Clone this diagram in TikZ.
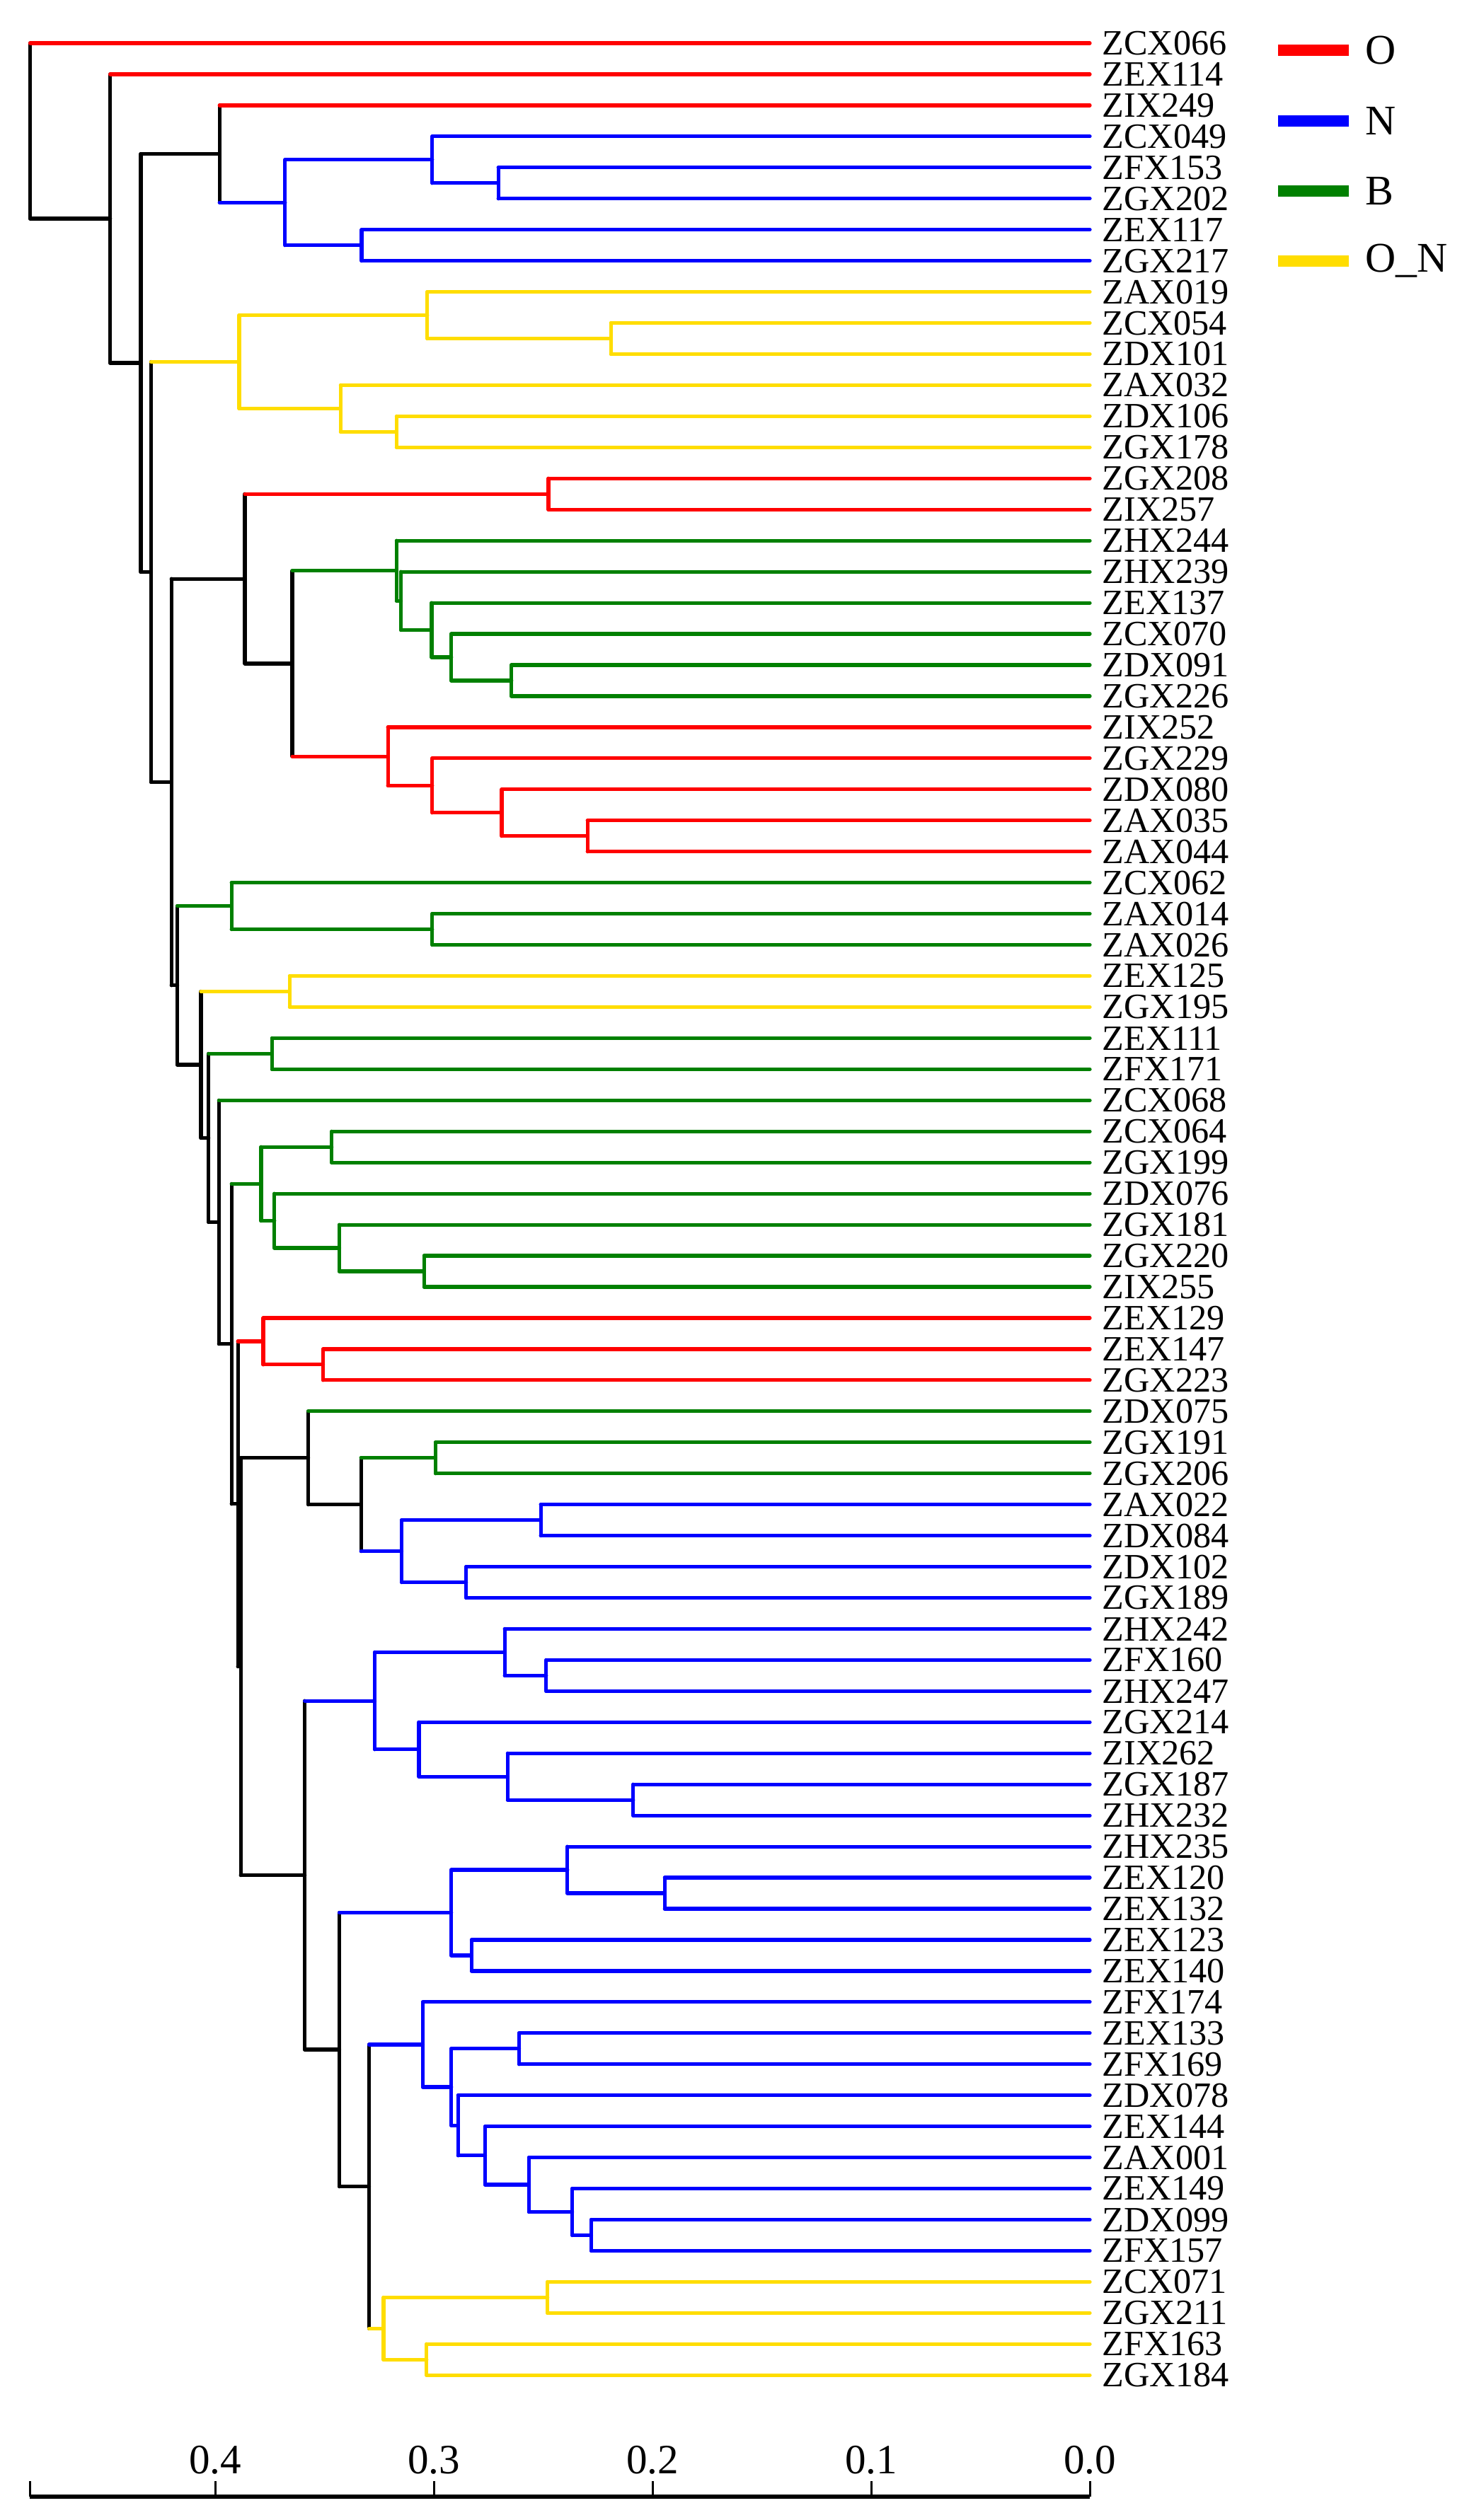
\documentclass[tikz,border=0pt]{standalone}
\usepackage{fontspec}
\setmainfont{Liberation Serif}
\usepackage{tikz}
\usetikzlibrary{calc}
\definecolor{clO}{RGB}{255,0,0}
\definecolor{clN}{RGB}{0,0,255}
\definecolor{clB}{RGB}{0,128,0}
\definecolor{clON}{RGB}{255,221,0}
\tikzstyle{branchline} = [line width=0.052cm, line cap=round, line join=round]
\tikzstyle{leafnode} = [anchor=west, inner xsep=0.17cm, inner ysep=0pt, font=\fontsize{14.3}{15}\selectfont]
\tikzstyle{keytext} = [anchor=west, inner sep=0pt, font=\fontsize{17}{19}\selectfont]
\tikzstyle{keybar} = [line width=0.16cm]
\tikzstyle{ticklabel} = [inner sep=0pt, font=\fontsize{16.8}{19}\selectfont]
\tikzstyle{axisline} = [line width=0.06cm]
\tikzstyle{axistick} = [line width=0.03cm]
% #1 name, #2 distance, #3/#4 children, #5 node colour, #6/#7 child colours
\newcommand{\joinnode}[7]{%
  \path let \p1 = ($(#3)!0.5!(#4)$) in coordinate (#1) at ({(15.40-30.9*#2)*1cm},\y1);
  \draw[branchline,#5] (#1 |- #3) -- (#1 |- #4);
  \draw[branchline,#6] (#1 |- #3) -- (#3);
  \draw[branchline,#7] (#1 |- #4) -- (#4);
}

\begin{document}
\begin{tikzpicture}
\useasboundingbox (0,0) rectangle (20.73,-35.62);
% leaves
\foreach \nm [count=\i] in {ZCX066,ZEX114,ZIX249,ZCX049,ZFX153,ZGX202,ZEX117,ZGX217,
  ZAX019,ZCX054,ZDX101,ZAX032,ZDX106,ZGX178,ZGX208,ZIX257,ZHX244,ZHX239,ZEX137,
  ZCX070,ZDX091,ZGX226,ZIX252,ZGX229,ZDX080,ZAX035,ZAX044,ZCX062,ZAX014,ZAX026,
  ZEX125,ZGX195,ZEX111,ZFX171,ZCX068,ZCX064,ZGX199,ZDX076,ZGX181,ZGX220,ZIX255,
  ZEX129,ZEX147,ZGX223,ZDX075,ZGX191,ZGX206,ZAX022,ZDX084,ZDX102,ZGX189,ZHX242,
  ZFX160,ZHX247,ZGX214,ZIX262,ZGX187,ZHX232,ZHX235,ZEX120,ZEX132,ZEX123,ZEX140,
  ZFX174,ZEX133,ZFX169,ZDX078,ZEX144,ZAX001,ZEX149,ZDX099,ZFX157,ZCX071,ZGX211,
  ZFX163,ZGX184}
  \node (\nm) [leafnode] at (15.40,{-0.61-0.4395*(\i-1)}) {\nm};

% cluster N (top)
\joinnode{a1}{0.2705}{ZFX153}{ZGX202}{clN}{clN}{clN}
\joinnode{a2}{0.3007}{ZCX049}{a1}{clN}{clN}{clN}
\joinnode{a3}{0.333}{ZEX117}{ZGX217}{clN}{clN}{clN}
\joinnode{a4}{0.368}{a2}{a3}{clN}{clN}{clN}
\joinnode{a5}{0.398}{ZIX249}{a4}{black}{clO}{clN}
% cluster O_N (top)
\joinnode{b1}{0.219}{ZCX054}{ZDX101}{clON}{clON}{clON}
\joinnode{b2}{0.303}{ZAX019}{b1}{clON}{clON}{clON}
\joinnode{b3}{0.317}{ZDX106}{ZGX178}{clON}{clON}{clON}
\joinnode{b4}{0.3426}{ZAX032}{b3}{clON}{clON}{clON}
\joinnode{b5}{0.389}{b2}{b4}{clON}{clON}{clON}
% O / B / O
\joinnode{c1}{0.2476}{ZGX208}{ZIX257}{clO}{clO}{clO}
\joinnode{c2}{0.2645}{ZDX091}{ZGX226}{clB}{clB}{clB}
\joinnode{c3}{0.292}{ZCX070}{c2}{clB}{clB}{clB}
\joinnode{c4}{0.301}{ZEX137}{c3}{clB}{clB}{clB}
\joinnode{c5}{0.315}{ZHX239}{c4}{clB}{clB}{clB}
\joinnode{c6}{0.317}{ZHX244}{c5}{clB}{clB}{clB}
\joinnode{c7}{0.2297}{ZAX035}{ZAX044}{clO}{clO}{clO}
\joinnode{c8}{0.2689}{ZDX080}{c7}{clO}{clO}{clO}
\joinnode{c9}{0.3007}{ZGX229}{c8}{clO}{clO}{clO}
\joinnode{c10}{0.321}{ZIX252}{c9}{clO}{clO}{clO}
\joinnode{c11}{0.3647}{c6}{c10}{black}{clB}{clO}
\joinnode{c12}{0.3864}{c1}{c11}{black}{clO}{black}
% small groups
\joinnode{e1}{0.3007}{ZAX014}{ZAX026}{clB}{clB}{clB}
\joinnode{e2}{0.3925}{ZCX062}{e1}{clB}{clB}{clB}
\joinnode{e3}{0.3659}{ZEX125}{ZGX195}{clON}{clON}{clON}
\joinnode{e4}{0.374}{ZEX111}{ZFX171}{clB}{clB}{clB}
% cluster B (middle)
\joinnode{f1}{0.3044}{ZGX220}{ZIX255}{clB}{clB}{clB}
\joinnode{f2}{0.3432}{ZGX181}{f1}{clB}{clB}{clB}
\joinnode{f3}{0.3729}{ZDX076}{f2}{clB}{clB}{clB}
\joinnode{f4}{0.3467}{ZCX064}{ZGX199}{clB}{clB}{clB}
\joinnode{f5}{0.379}{f4}{f3}{clB}{clB}{clB}
% cluster O (middle)
\joinnode{g1}{0.3506}{ZEX147}{ZGX223}{clO}{clO}{clO}
\joinnode{g2}{0.378}{ZEX129}{g1}{clO}{clO}{clO}
% B / N
\joinnode{h1}{0.2992}{ZGX191}{ZGX206}{clB}{clB}{clB}
\joinnode{h2}{0.2511}{ZAX022}{ZDX084}{clN}{clN}{clN}
\joinnode{h3}{0.2852}{ZDX102}{ZGX189}{clN}{clN}{clN}
\joinnode{h4}{0.3147}{h2}{h3}{clN}{clN}{clN}
\joinnode{h5}{0.3333}{h1}{h4}{black}{clB}{clN}
\joinnode{h6}{0.3574}{ZDX075}{h5}{black}{clB}{black}
% cluster N (bottom)
\joinnode{i1}{0.2486}{ZFX160}{ZHX247}{clN}{clN}{clN}
\joinnode{i2}{0.2676}{ZHX242}{i1}{clN}{clN}{clN}
\joinnode{i3}{0.2088}{ZGX187}{ZHX232}{clN}{clN}{clN}
\joinnode{i4}{0.2662}{ZIX262}{i3}{clN}{clN}{clN}
\joinnode{i5}{0.3068}{ZGX214}{i4}{clN}{clN}{clN}
\joinnode{i6}{0.327}{i2}{i5}{clN}{clN}{clN}
\joinnode{j1}{0.1944}{ZEX120}{ZEX132}{clN}{clN}{clN}
\joinnode{j2}{0.2389}{ZHX235}{j1}{clN}{clN}{clN}
\joinnode{j3}{0.2827}{ZEX123}{ZEX140}{clN}{clN}{clN}
\joinnode{j4}{0.292}{j2}{j3}{clN}{clN}{clN}
\joinnode{m1}{0.228}{ZDX099}{ZFX157}{clN}{clN}{clN}
\joinnode{m2}{0.2367}{ZEX149}{m1}{clN}{clN}{clN}
\joinnode{m3}{0.2565}{ZAX001}{m2}{clN}{clN}{clN}
\joinnode{m4}{0.2765}{ZEX144}{m3}{clN}{clN}{clN}
\joinnode{m5}{0.2889}{ZDX078}{m4}{clN}{clN}{clN}
\joinnode{m6}{0.261}{ZEX133}{ZFX169}{clN}{clN}{clN}
\joinnode{m7}{0.292}{m6}{m5}{clN}{clN}{clN}
\joinnode{m8}{0.305}{ZFX174}{m7}{clN}{clN}{clN}
% cluster O_N (bottom)
\joinnode{p1}{0.248}{ZCX071}{ZGX211}{clON}{clON}{clON}
\joinnode{p2}{0.3033}{ZFX163}{ZGX184}{clON}{clON}{clON}
\joinnode{p3}{0.323}{p1}{p2}{clON}{clON}{clON}
% backbone
\joinnode{q1}{0.3296}{m8}{p3}{black}{clN}{clON}
\joinnode{q2}{0.3432}{j4}{q1}{black}{clN}{black}
\joinnode{q3}{0.359}{i6}{q2}{black}{clN}{black}
\joinnode{q4}{0.3883}{h6}{q3}{black}{black}{black}
\joinnode{q5}{0.3896}{g2}{q4}{black}{clO}{black}
\joinnode{q6}{0.3925}{f5}{q5}{black}{clB}{black}
\joinnode{q7}{0.3983}{ZCX068}{q6}{black}{clB}{black}
\joinnode{q8}{0.403}{e4}{q7}{black}{clB}{black}
\joinnode{q9}{0.4065}{e3}{q8}{black}{clON}{black}
\joinnode{q10}{0.4173}{e2}{q9}{black}{clB}{black}
\joinnode{q11}{0.420}{c12}{q10}{black}{black}{black}
\joinnode{q12}{0.4293}{b5}{q11}{black}{clON}{black}
\joinnode{q13}{0.434}{a5}{q12}{black}{black}{black}
\joinnode{q14}{0.448}{ZEX114}{q13}{black}{clO}{black}
\joinnode{root}{0.4846}{ZCX066}{q14}{black}{clO}{black}

% legend
\node (keyO) [keytext] at (19.29,-0.71) {O};
\node (keyN) [keytext] at (19.29,-1.71) {N};
\node (keyB) [keytext] at (19.29,-2.70) {B};
\node (keyON) [keytext] at (19.29,-3.69) {O\_N};
\draw[keybar,clO] ([xshift=-0.23cm]keyO.west) -- ++(-1.0,0);
\draw[keybar,clN] ([xshift=-0.23cm]keyN.west) -- ++(-1.0,0);
\draw[keybar,clB] ([xshift=-0.23cm]keyB.west) -- ++(-1.0,0);
\draw[keybar,clON] ([xshift=-0.23cm]keyON.west) -- ++(-1.0,0);

% distance axis
\coordinate (axL) at (0.42,-35.29);
\coordinate (axR) at (15.40,-35.29);
\draw[axisline] (axL) -- (axR);
\draw[axistick] (axL) -- ++(0,0.22);
\foreach \d/\lab in {0/0.0,1/0.1,2/0.2,3/0.3,4/0.4} {
  \coordinate (tick\d) at ({15.40-3.09*\d},-35.29);
  \draw[axistick] (tick\d) -- ++(0,0.22);
  \node (lab\d) [ticklabel] at ({15.40-3.09*\d},-34.77) {\lab};
}
\end{tikzpicture}
\end{document}
